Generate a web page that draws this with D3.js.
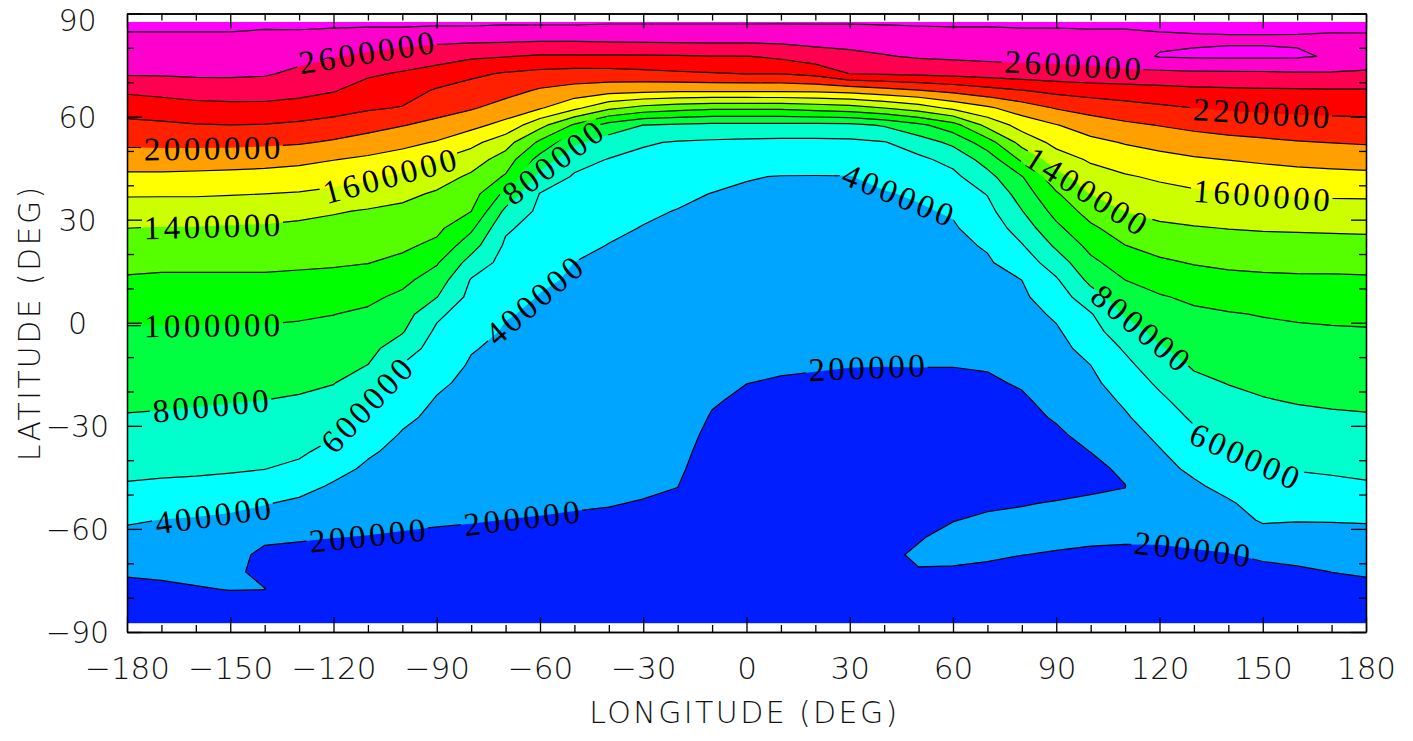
<!DOCTYPE html>
<html><head><meta charset="utf-8">
<script src="https://cdn.jsdelivr.net/npm/d3@7"></script>
<style>body{margin:0;background:#fff}svg{display:block}</style>
</head><body>
<svg id="chart" width="1413" height="741"></svg>
<script>
// ---------------- DATA ----------------
const lons = [-180,-170,-160,-150,-140,-130,-120,-110,-100,-90,-80,-70,-60,-50,-40,-30,-20,-10,0,10,20,30,40,50,60,70,80,90,100,110,120,130,140,150,160,170,180];
const lats = [87.5,82.5,77.5,72.5,67.5,62.5,57.5,52.5,47.5,42.5,37.5,32.5,27.5,22.5,17.5,12.5,7.5,2.5,-2.5,-7.5,-12.5,-17.5,-22.5,-27.5,-32.5,-37.5,-42.5,-47.5,-52.5,-57.5,-62.5,-67.5,-72.5,-77.5,-82.5,-87.5];
const levels = [200000,400000,600000,800000,1000000,1200000,1400000,1600000,1800000,2000000,2200000,2400000,2600000,2800000];
const bandColors = ["#001eff","#00a5ff","#00ffff","#00ffcc","#00ff40","#00ff00","#55ff00","#ccff00","#ffff00","#ffa000","#ff2000","#ff0000","#ff0050","#ff00cc","#ff00ff"];
const valueUnit = 10000; // field values below are in units of 10 000
// one array per longitude (lons order), values from north (87.5) to south (-87.5)
const field = [
[284,277,270,262,243,228,215,204,190,176,162,151,140,132,125,118,111,104,98,94,91,87,83,79,74,69,64,58.5,50,42,35,28,22,15.5,12,10],
[284,277,270,262,246,230,217,205,190,176,162,150,139,132,124,117,110,104,98,94,90,87,83,78,73.5,68.5,63.5,57,48,39.6,34,28.5,23,17,13,10],
[284,277,270,263,249,233,219,205,190,175,162,150,139,131.5,124,117,110,103.5,98,94,90,86,82,77,72.5,67.5,63,56,46,38.5,34,29,24,19,14,11],
[284,277,270,263,250,234,219.8,205,189,174,161,149,138,131,124,117,110,103.5,98,94,89.5,85,81,76,71,67,62,54,44,37,33,29,24,20.5,14,11],
[283,276,269,262,249,234.5,219,204,187.5,173,160,148,137.5,131,124,117,110,103,98,93,89,84,80,75,70,65,60.3,51,41,33,25,14,15,20.3,12,10],
[284,275,265.5,256,246,232,216.5,202,185,171,158.5,145,136,130,123,116,109,102,97,92,88,83,78.5,73,68,63,56,46,37,30,22,14,12,11,10,9],
[284,272.5,261,251,241,227.5,213,197.6,180.5,168,155,141.5,134.5,128,122,115,108,100.3,95,90,85.5,80.6,74.5,68,62,54,45.6,38,32,26,20.2,14,12,11,10,9],
[284,270.2,256.4,242.7,232.1,222.3,207.4,191.5,176.5,163.3,150.1,138.6,132.5,126.5,120.5,112.3,103.9,96.9,91.2,85.5,79.6,70.6,61.5,54.8,48.6,42.3,37.2,32.7,28.3,23.8,19.4,15,12,11,10,9],
[285,267.7,251.7,238.1,228.8,218.9,200.8,185.7,170.9,156.6,144.4,136,129.7,123.5,115.4,105,96.2,88.9,81.6,70,58.9,53.7,48.5,43.3,38.8,35.4,32.1,28.7,25.4,22.1,18.7,15,13,11,10,9],
[284.3,265.2,248.1,232.2,217.7,207.3,195,178.5,160.5,148.1,137.7,131.1,124.5,115.7,101.9,91,80.6,63.8,56.5,51.9,47.3,42.7,38.9,36.4,33.8,31.3,28.7,26.1,23.6,21,18.4,16,13,11,10,9],
[284.6,264.4,243.1,223.8,211.9,201.8,185.8,165.8,149.1,136.8,128.6,120.4,103.7,88.3,72.4,58.8,54.3,49.8,45.4,40.9,38.4,36.4,34.4,32.4,30.4,28.4,26.4,24.4,22.4,20.4,18.4,16,14,12,10,9],
[283.2,264.1,240.7,218.2,206.3,192.4,173.5,148,131.5,117.7,94.8,75.5,62.7,56.9,52.9,48.9,44.9,40.9,38.7,37,35.3,33.5,31.8,30.1,28.4,26.7,25,23.3,21.6,19.9,18.2,16,14,12,10,9],
[283.4,263.2,237.7,214.4,197.5,181.8,146.2,116,91.7,73.3,59.2,55.8,52.3,48.9,45.5,42,39.4,37.9,36.3,34.8,33.3,31.8,30.3,28.7,27.2,25.7,24.2,22.7,21.1,19.6,18,16,14,12,10,9],
[283.4,263.2,237.5,212.2,192,164.4,117,84,66.8,58,54.3,50.7,47.1,43.5,39.9,38.6,37.2,35.8,34.4,33.1,31.7,30.3,28.9,27.5,26.2,24.8,23.4,22,20.6,19.3,18,16,14,12,10,9],
[282,263.9,237.7,212.5,187,144.4,92,70.5,59.2,55.1,51,46.9,42.8,39.6,38.3,37,35.7,34.4,33.2,31.9,30.6,29.3,28,26.7,25.4,24.1,22.9,21.6,20.3,19,18,16,14,12,10,9],
[281.9,264.7,238,214.5,184.4,133.3,79.8,61.7,55.9,51.4,46.9,42.3,39.4,38.2,36.9,35.7,34.5,33.2,32,30.8,29.6,28.3,27.1,25.9,24.6,23.4,22.2,20.9,19.7,18.5,17,16,14,12,10,9],
[281.8,265.4,238.2,217.1,182.7,128,77.1,58.7,53.5,48.3,43.1,39.5,38.3,37.1,35.9,34.7,33.5,32.2,31,29.8,28.6,27.4,26.2,25,23.8,22.6,21.4,20.1,19,18,17,16,14,12,10,9],
[281.8,265.4,239.4,218.8,182.7,124,75.1,57.3,51.1,44.8,39.6,38.1,36.5,35,33.4,31.8,30.3,28.7,27.2,25.6,24,22.5,20.9,19.3,17.8,16.5,15.5,15,14.5,14,13.5,13,12,11,10,9],
[281.8,265.4,239.4,220.4,182.7,124,74.7,56.2,48.4,40.6,38.5,36.8,35.1,33.5,31.8,30.1,28.4,26.8,25.1,23.4,21.8,20.1,18.4,17,16,15,14.5,14,13.5,13,12.5,12,11.5,11,10,9],
[281.7,266.1,243.8,220.5,183,124,74.7,55.7,46.9,39.6,37.9,36.2,34.6,32.9,31.2,29.5,27.8,26.1,24.4,22.7,21,19.3,17.8,16.5,15.5,15,14.5,14,13.5,13,12.5,12,11.5,11,10,9],
[281.7,266.7,251.7,225.6,183.4,128,74.7,55.6,46.6,39.5,37.8,36.1,34.4,32.7,30.9,29.2,27.5,25.8,24.1,22.4,20.6,18.9,17.5,16.5,15.5,15,14.5,14,13.5,13,12.5,12,11.5,11,10,9],
[281.5,268.2,254.6,240.3,186.3,132,75.1,56.1,47.1,39.6,37.9,36.1,34.3,32.6,30.8,29.1,27.3,25.5,23.8,22,20.2,18.5,17.5,16.5,16,15.5,15,14.5,14,13.5,13,12.5,12,11,10,9],
[281.9,270.5,258.6,242.3,192,140,81.8,58.9,51.3,43.7,39,37.1,35.2,33.4,31.5,29.6,27.7,25.8,24,22.1,20.1,18.3,17,16,15.5,15,14.5,15,15.5,16,17,18.5,17,13,11,10],
[282.3,272.2,262.1,244,198,150,95.1,70.1,56,48.9,41.7,38.4,36.4,34.4,32.4,30.3,28.3,26.3,24.3,22.3,20.2,18.2,17,16,15.5,15.5,16,16.5,17,18,19.5,21,19.6,15,12,10],
[282.7,273.2,263.6,245.9,204.9,164.4,112,84.5,65.8,55.3,48.4,41.6,38.3,36,33.8,31.5,29.3,27,24.8,22.4,20.2,18,16.5,15.5,15,15,15.5,16.5,17.5,19.8,22,21.5,19.2,14,11,10],
[282.5,273.7,264.9,248.3,212.4,176.7,145.6,111.2,88.5,73.6,60.8,54.1,47.9,41.7,37.9,35.1,32.3,29.5,26.7,23.9,21,18.2,16.5,15.5,15,15,15.5,17,18.8,21.2,22.5,21,18.5,14,11,10],
[283,274.4,265.8,250.7,218.7,190,167.6,147,123.6,99,89.2,79.3,68.9,58.7,49.4,40.1,36.9,33.8,30.7,27.5,24.4,21.3,18.2,16.5,15.5,15.5,16.5,18,19.5,22,22.5,20.1,17,14,11,10],
[282.9,274.5,266.1,252.3,224.9,201.3,179.1,165.8,150.5,133.3,117.6,106.8,95.5,83.3,69.9,57.9,50.2,42.6,37.8,34.5,31.2,27.8,24.5,21.2,18,16.5,16,17,20.5,22.5,21.5,19.5,17,14,11,10],
[283.4,275,266.6,254,228.3,207.8,189.8,174.7,162.5,151.4,140.7,128.1,116.2,105.8,95.4,85,71.8,58.5,52.3,46,39.8,35.9,32,28,24.1,20.1,17.5,18.5,21.5,23,21.5,18.5,16,13,11,10],
[283.4,275,274,254.5,230.8,212.4,196.3,181.4,169.3,158.1,149.3,140.5,130.1,119.8,109.9,100.1,91.1,82,72.2,62.1,55.1,49,42.8,38,33,27.5,21.8,19.8,21.5,23,22,17,15,13,11,10],
[284,277,281,254.9,233.2,216.4,200.7,186.3,173.9,162.8,153.7,145.3,136.4,126.6,116.9,107.3,98.5,91.8,85.3,78.4,70.8,63.2,56.3,50.1,43.9,38.7,35.2,31.8,28.4,24.9,21.5,18,15.5,13,11,10],
[284,278,282,256.3,235,220,205,190.9,177.8,167.1,156.9,147.8,138.8,130.1,121.2,112.2,103.2,96.8,91.8,86.8,81.8,75.9,69.4,62.9,56.4,49.8,43.2,37.5,32.8,28,23.2,18.4,16,13.5,11,10],
[284,278.5,282.5,256.5,236.2,222.4,208.2,194.1,180.4,169.6,159,149.7,140.4,132,123.6,115.1,106.5,98.9,94.3,89.7,85.1,80.6,75.4,70.1,64.8,59.3,52.2,45,38.1,31.9,25.6,19.4,16.5,14,11.5,10],
[284,278.5,282.5,256.8,237.1,223.8,210.2,196.5,182.8,171.4,160.7,151.1,141.5,133,124.6,116.5,108.6,100.8,96.2,92,87.7,83.5,79.1,74.1,69,63.9,58.6,52.5,46.4,42,31.3,22.3,16.5,14,11.5,10],
[285,278,282,257.9,237.3,225,212.2,198.9,185.2,173.1,162,151.9,142.1,133.5,125.1,117.1,109.8,102.5,97.3,93.3,89.2,85.2,81.2,76.4,71.2,66.1,61,54.4,47.6,40.7,33,25.1,17.3,14.5,12,10],
[285,277,278.5,258,238,225.7,213.2,200.4,186.8,174.2,162.7,152.5,142.7,133.8,125.2,117.3,110.4,103.5,98.1,94.1,90.2,86.2,82.3,77.9,72.7,67.6,62.4,56,48.4,40.8,33.8,26.9,20.1,16,13,10],
[285.6,276.8,267.9,258,238.1,226.2,214.1,201.9,188.4,175.2,162.9,152.7,143.2,134.3,125.7,117.7,111,104.2,98.6,94.7,90.8,86.8,82.9,78.8,73.8,68.8,63.8,58,49.7,41.3,34.6,28.3,21.9,15.6,12,10]
];
// contour label anchors (approximate lon/lat, snapped onto the contour)
const labelLevels = [2600000,2000000,1600000,1400000,1000000,800000,600000,400000,200000,200000,400000,800000,400000,200000,2600000,2200000,1400000,1600000,800000,600000,200000];
const labelLons   = [-110.3,-155.3,-104.2,-155.3,-155.3,-155.6,-110,-155,-110.3,-65.3,-62.7,-56.9,44.4,34.9,94.7,149.6,99,149.6,114.1,144.6,129.5];
const labelLats   = [77.9,50.3,45,28.2,-0.1,-25.5,-24.5,-56.5,-61.2,-57.1,7.2,47.4,38.6,-13,73.6,61.9,38.6,36.3,-2.1,-39.1,-65.5];
const lonTicks = [-180,-150,-120,-90,-60,-30,0,30,60,90,120,150,180];
const latTicks = [-90,-60,-30,0,30,60,90];
const minorStep = 10;

// ---------------- CHART ----------------
const W = 1413, H = 741;
const svg = d3.select('#chart');
svg.append('rect').attr('width', W).attr('height', H).attr('fill', '#fff');
const x = d3.scaleLinear([-180, 180], [127, 1366]);
const y = d3.scaleLinear([-90, 90], [632, 13.5]);
const nx = lons.length, ny = lats.length;
const gLon = d3.scaleLinear([0.5, nx - 0.5], [lons[0], lons[nx - 1]]);
const gLat = d3.scaleLinear([0.5, ny - 0.5], [lats[0], lats[ny - 1]]);

const values = new Array(nx * ny);
for (let j = 0; j < ny; j++) for (let i = 0; i < nx; i++) values[j * nx + i] = field[i][j] * valueUnit;
const contours = d3.contours().size([nx, ny]).thresholds(levels)(values);
const proj = d3.geoTransform({ point(px, py) { this.stream.point(x(gLon(px)), y(gLat(py))); } });
const path = d3.geoPath(proj);

const defs = svg.append('defs');
const cx0 = x(lons[0]), cx1 = x(lons[nx - 1]), cy0 = y(lats[0]), cy1 = y(lats[ny - 1]);
defs.append('clipPath').attr('id', 'dataClip').append('rect')
  .attr('x', cx0).attr('y', cy0).attr('width', cx1 - cx0).attr('height', cy1 - cy0);
const mask = defs.append('mask').attr('id', 'labelMask').attr('maskUnits', 'userSpaceOnUse')
  .attr('x', 0).attr('y', 0).attr('width', W).attr('height', H);
mask.append('rect').attr('width', W).attr('height', H).attr('fill', '#fff');

const plot = svg.append('g').attr('clip-path', 'url(#dataClip)');
plot.append('rect').attr('x', cx0).attr('y', cy0).attr('width', cx1 - cx0).attr('height', cy1 - cy0).attr('fill', bandColors[0]);
plot.selectAll('path.band').data(contours).join('path').attr('class', 'band')
  .attr('d', path).attr('fill', (d, i) => bandColors[i + 1]);

const lineG = svg.append('g').attr('clip-path', 'url(#dataClip)').append('g').attr('mask', 'url(#labelMask)');
lineG.selectAll('path').data(contours).join('path')
  .attr('d', path).attr('fill', 'none').attr('stroke', '#000').attr('stroke-width', 1.2).attr('stroke-linejoin', 'round');

// field sampler in pixel space (bilinear, same as contour interpolation on cell edges)
function sample(px, py) {
  const fi = Math.max(0, Math.min(nx - 1, gLon.invert(x.invert(px)) - 0.5));
  const fj = Math.max(0, Math.min(ny - 1, gLat.invert(y.invert(py)) - 0.5));
  const i0 = Math.min(nx - 2, Math.floor(fi)), j0 = Math.min(ny - 2, Math.floor(fj));
  const tx = fi - i0, ty = fj - j0;
  return (1 - tx) * (1 - ty) * field[i0][j0] + tx * (1 - ty) * field[i0 + 1][j0]
       + (1 - tx) * ty * field[i0][j0 + 1] + tx * ty * field[i0 + 1][j0 + 1];
}
function snap(px, py, target) {
  for (let k = 0; k < 12; k++) {
    const f = sample(px, py);
    if (Math.abs(target - f) < 0.005) break;
    const gx = (sample(px + 1, py) - sample(px - 1, py)) / 2;
    const gy = (sample(px, py + 1) - sample(px, py - 1)) / 2;
    const g2 = gx * gx + gy * gy; if (g2 < 1e-9) break;
    let sx = (target - f) * gx / g2, sy = (target - f) * gy / g2;
    const m = Math.hypot(sx, sy); if (m > 8) { sx *= 8 / m; sy *= 8 / m; }
    px += sx; py += sy;
  }
  return [px, py];
}
function tangentAngle(px, py) {
  const h = 3;
  const gx = sample(px + h, py) - sample(px - h, py);
  const gy = sample(px, py + h) - sample(px, py - h);
  return Math.atan2(gx, -gy);
}

const labelG = svg.append('g').attr('font-family', "'Liberation Serif', 'DejaVu Serif', serif")
  .attr('font-size', 33).attr('letter-spacing', 3.5).attr('fill', '#000');
const fmt = d3.format('d');
labelLevels.forEach((lev, k) => {
  const target = lev / valueUnit;
  let [px, py] = snap(x(labelLons[k]), y(labelLats[k]), target);
  let a = tangentAngle(px, py);
  const d = 45;
  const pA = snap(px + d * Math.cos(a), py + d * Math.sin(a), target);
  const pB = snap(px - d * Math.cos(a), py - d * Math.sin(a), target);
  let ang = Math.atan2(pA[1] - pB[1], pA[0] - pB[0]) * 180 / Math.PI;
  if (ang > 90) ang -= 180; if (ang < -90) ang += 180;
  const tr = `translate(${px},${py}) rotate(${ang})`;
  const t = labelG.append('text').attr('transform', tr).attr('text-anchor', 'middle')
    .attr('dx', 1.75).attr('dy', '0.35em').text(fmt(lev));
  const w = t.node().getComputedTextLength() + 2;
  mask.append('rect').attr('transform', tr).attr('x', -w / 2).attr('y', -13).attr('width', w).attr('height', 26).attr('fill', '#000');
});

// ---------------- AXES ----------------
const tickFont = "'DejaVu Sans', 'Liberation Sans', sans-serif";
const lonMinor = d3.range(lons[0], lons[nx - 1] + 1, minorStep).filter(v => !lonTicks.includes(v));
const latMinor = d3.range(-90, 91, minorStep).filter(v => !latTicks.includes(v));
function styleAxis(g) {
  g.selectAll('path,line').attr('stroke', '#000').attr('stroke-width', 1.3);
  g.selectAll('text').attr('font-family', tickFont).attr('font-size', 31).attr('font-weight', 200).attr('fill', '#111');
}
const fmtTick = d3.format('d');
svg.append('g').attr('transform', `translate(0,${y(-90)})`)
  .call(d3.axisBottom(x).tickValues(lonTicks).tickSize(-15).tickSizeOuter(0).tickPadding(25).tickFormat(fmtTick)).call(styleAxis);
svg.append('g').attr('transform', `translate(0,${y(-90)})`)
  .call(d3.axisBottom(x).tickValues(lonMinor).tickSize(-7).tickSizeOuter(0).tickFormat('')).call(styleAxis);
svg.append('g').attr('transform', `translate(0,${y(90)})`)
  .call(d3.axisTop(x).tickValues(lonTicks).tickSize(-15).tickSizeOuter(0).tickFormat('')).call(styleAxis);
svg.append('g').attr('transform', `translate(0,${y(90)})`)
  .call(d3.axisTop(x).tickValues(lonMinor).tickSize(-7).tickSizeOuter(0).tickFormat('')).call(styleAxis);
const leftAx = svg.append('g').attr('transform', `translate(${x(-180)},0)`)
  .call(d3.axisLeft(y).tickValues(latTicks).tickSize(-15).tickSizeOuter(0).tickFormat(fmtTick)).call(styleAxis);
leftAx.selectAll('text').attr('text-anchor', 'middle').attr('x', 77.5 - x(-180))
  .attr('font-size', 30).attr('dy', d => d === 90 ? '0.55em' : '0.36em');
svg.append('g').attr('transform', `translate(${x(-180)},0)`)
  .call(d3.axisLeft(y).tickValues(latMinor).tickSize(-7).tickSizeOuter(0).tickFormat('')).call(styleAxis);
svg.append('g').attr('transform', `translate(${x(180)},0)`)
  .call(d3.axisRight(y).tickValues(latTicks).tickSize(-15).tickSizeOuter(0).tickFormat('')).call(styleAxis);
svg.append('g').attr('transform', `translate(${x(180)},0)`)
  .call(d3.axisRight(y).tickValues(latMinor).tickSize(-7).tickSizeOuter(0).tickFormat('')).call(styleAxis);

svg.append('text').attr('x', (x(-180) + x(180)) / 2 - 2).attr('y', 712).attr('dy', '0.35em')
  .attr('text-anchor', 'middle').attr('font-family', tickFont).attr('font-size', 30).attr('font-weight', 200)
  .attr('letter-spacing', 2.4).attr('fill', '#111').text('LONGITUDE (DEG)');
svg.append('text').attr('transform', `translate(29,${(y(90) + y(-90)) / 2}) rotate(-90)`).attr('dy', '0.35em')
  .attr('text-anchor', 'middle').attr('font-family', tickFont).attr('font-size', 30).attr('font-weight', 200)
  .attr('letter-spacing', 2.4).attr('fill', '#111').text('LATITUDE (DEG)');
</script>
</body></html>
